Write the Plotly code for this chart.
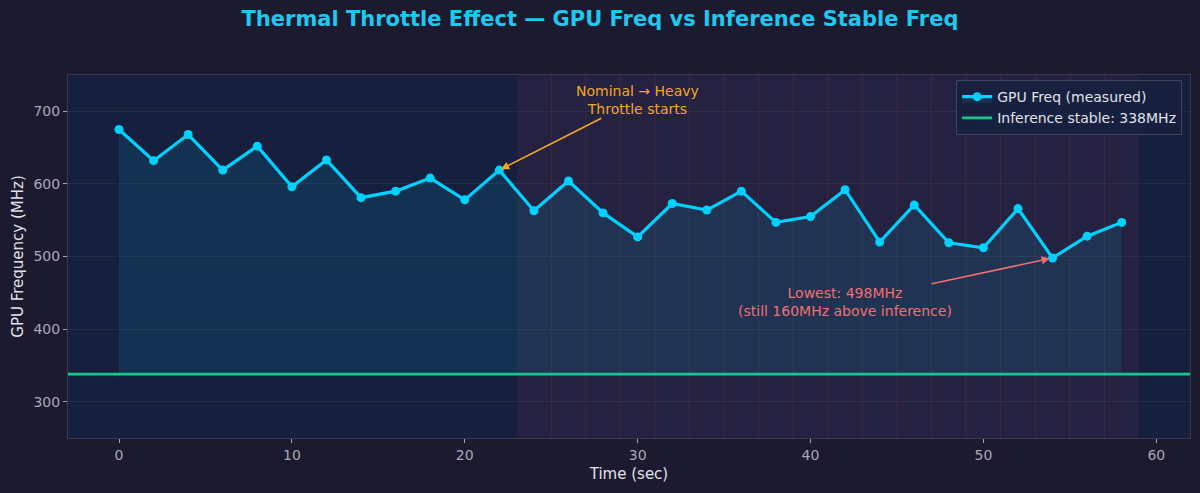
import plotly.graph_objects as go

# measured GPU frequency, sampled every 2 s
time_sec = [0, 2, 4, 6, 8, 10, 12, 14, 16, 18, 20, 22, 24, 26, 28,
            30, 32, 34, 36, 38, 40, 42, 44, 46, 48, 50, 52, 54, 56, 58]
gpu_freq = [675, 632, 668, 619, 652, 596, 633, 581, 590, 608, 578, 619, 563, 604, 560,
            527, 573, 564, 590, 547, 555, 592, 520, 571, 519, 512, 566, 498, 528, 547]
inference_freq = 338

throttle_start = 23
throttle_end = 59
throttle_marks = [25, 27, 29, 31, 33, 35, 37, 39, 41, 43, 45, 47, 49, 51, 53, 55, 57]

lowest_t = 54
lowest_f = 498
start_t = 22
start_f = 619

paper_bg = "#1b1a2e"
plot_bg = "#16203e"
cyan = "#00d2ff"
green = "#10c98a"

fig = go.Figure()

# invisible base at inference freq so the area fills down to it
fig.add_trace(go.Scatter(
    x=time_sec, y=[inference_freq] * len(time_sec),
    mode="lines", line=dict(width=0), hoverinfo="skip", showlegend=False
))
fig.add_trace(go.Scatter(
    x=time_sec, y=gpu_freq,
    mode="lines+markers", name="GPU Freq (measured)",
    line=dict(color=cyan, width=3.2),
    marker=dict(color=cyan, size=9),
    fill="tonexty", fillcolor="rgba(0,210,255,0.10)"
))
fig.add_trace(go.Scatter(
    x=[-2.95, 61.95], y=[inference_freq, inference_freq],
    mode="lines", name="Inference stable: %dMHz" % inference_freq,
    line=dict(color=green, width=2.8)
))

# heavy throttle zone
fig.add_vrect(x0=throttle_start, x1=throttle_end, fillcolor="rgba(233,69,96,0.07)",
              line_width=0, layer="below")
for m in throttle_marks:
    fig.add_vline(x=m, line=dict(color="rgba(233,69,96,0.15)", width=1), layer="below")

fig.add_annotation(
    x=start_t, y=start_f, ax=30, ay=716, xref="x", yref="y", axref="x", ayref="y",
    text="Nominal → Heavy<br>Throttle starts", showarrow=True,
    arrowhead=2, arrowsize=1, arrowwidth=1.6, arrowcolor="#f5a623", standoff=2,
    font=dict(color="#f5a623", size=14)
)
fig.add_annotation(
    x=lowest_t, y=lowest_f, ax=42, ay=437, xref="x", yref="y", axref="x", ayref="y",
    text="Lowest: %dMHz<br>(still %dMHz above inference)" % (lowest_f, 160),
    showarrow=True, arrowhead=2, arrowsize=1, arrowwidth=1.6, arrowcolor="#f07070",
    standoff=3, font=dict(color="#f07070", size=14)
)

fig.update_layout(
    width=1200, height=493,
    paper_bgcolor=paper_bg, plot_bgcolor=plot_bg,
    font=dict(family="DejaVu Sans", color="#a8a8b8"),
    margin=dict(l=68, r=10, t=75, b=55),
    title=dict(
        text="<b>Thermal Throttle Effect — GPU Freq vs Inference Stable Freq</b>",
        x=0.5, xanchor="center", y=0.962, yref="container", yanchor="middle",
        font=dict(size=21, color="#1ec8f0")
    ),
    legend=dict(
        x=0.993, y=0.986, xanchor="right", yanchor="top", traceorder="normal",
        bgcolor="rgba(22,32,62,0.9)", bordercolor="#3c4260", borderwidth=1,
        font=dict(size=14, color="#e0e0e8")
    ),
    xaxis=dict(
        range=[-2.95, 61.95], tickvals=[0, 10, 20, 30, 40, 50, 60],
        showgrid=False, zeroline=False,
        ticks="outside", ticklen=4, tickcolor="#a0a0b0",
        showline=True, linecolor="#3a3a4e", mirror=True,
        tickfont=dict(size=14, color="#a8a8b8"),
        title=dict(text="Time (sec)", font=dict(size=15, color="#e0e0e8"), standoff=6)
    ),
    yaxis=dict(
        range=[250, 750], tickvals=[300, 400, 500, 600, 700],
        gridcolor="rgba(255,255,255,0.06)", zeroline=False,
        ticks="outside", ticklen=4, tickcolor="#a0a0b0",
        showline=True, linecolor="#3a3a4e", mirror=True,
        tickfont=dict(size=14, color="#a8a8b8"),
        title=dict(text="GPU Frequency (MHz)", font=dict(size=15, color="#e0e0e8"), standoff=6)
    ),
)

fig.write_html("out.html", config={"displayModeBar": False},
               post_script="document.body.style.margin='0';")
